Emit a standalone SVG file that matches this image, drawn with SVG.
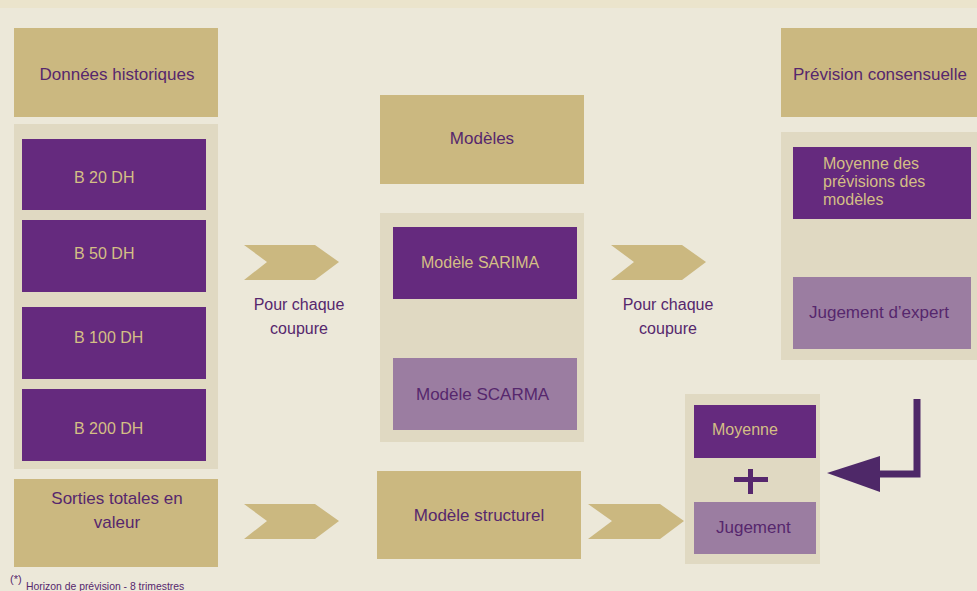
<svg xmlns="http://www.w3.org/2000/svg" width="977" height="591" viewBox="0 0 977 591">
  <style>
    .bg { fill: #ece8d9; }
    .strip { fill: #ebe4cc; }
    .tan { fill: #cbb880; }
    .panel { fill: #e0d9c2; }
    .purple { fill: #652a7e; }
    .lilac { fill: #9b7da1; }
    .chev { fill: #cbb880; }
    text { font-family: "Liberation Sans", Arial, sans-serif; }
    .dark { fill: #56276d; font-size: 17px; }
    .light { fill: #d4bf85; font-size: 16px; }
    .dk16 { fill: #56276d; font-size: 16px; }
    .mid { text-anchor: middle; }
  </style>

  <rect class="bg" x="0" y="0" width="977" height="591"/>
  <rect class="strip" x="0" y="0" width="977" height="8"/>

  <!-- Left column: historical data -->
  <g id="donnees-historiques">
    <rect class="tan" x="14" y="28" width="204" height="89"/>
    <text class="dark mid" x="117" y="80">Données historiques</text>
  </g>
  <g id="billets">
    <rect class="panel" x="14" y="124" width="204" height="345"/>
    <g id="b20">
      <rect class="purple" x="22" y="139" width="184" height="71"/>
      <text class="light" x="74" y="183">B 20 DH</text>
    </g>
    <g id="b50">
      <rect class="purple" x="22" y="220" width="184" height="72"/>
      <text class="light" x="74" y="259">B 50 DH</text>
    </g>
    <g id="b100">
      <rect class="purple" x="22" y="307" width="184" height="72"/>
      <text class="light" x="74" y="343">B 100 DH</text>
    </g>
    <g id="b200">
      <rect class="purple" x="22" y="389" width="184" height="72"/>
      <text class="light" x="74" y="434">B 200 DH</text>
    </g>
  </g>
  <g id="sorties-totales">
    <rect class="tan" x="14" y="479" width="204" height="88"/>
    <text class="dark mid" x="117" y="504">Sorties totales en</text>
    <text class="dark mid" x="117" y="528">valeur</text>
  </g>

  <!-- Middle column: models -->
  <g id="modeles">
    <rect class="tan" x="380" y="95" width="204" height="89"/>
    <text class="dark mid" x="482" y="144">Modèles</text>
  </g>
  <g id="modeles-panel">
    <rect class="panel" x="380" y="213" width="204" height="229"/>
    <g id="sarima">
      <rect class="purple" x="393" y="227" width="184" height="72"/>
      <text class="light" x="421" y="268">Modèle SARIMA</text>
    </g>
    <g id="scarma">
      <rect class="lilac" x="393" y="358" width="184" height="72"/>
      <text class="dark" x="416" y="400">Modèle SCARMA</text>
    </g>
  </g>
  <g id="modele-structurel">
    <rect class="tan" x="377" y="471" width="204" height="88"/>
    <text class="dark mid" x="479" y="521">Modèle structurel</text>
  </g>

  <!-- Right column: consensus forecast -->
  <g id="prevision-consensuelle">
    <rect class="tan" x="781" y="28" width="196" height="89"/>
    <text class="dark" x="793" y="80">Prévision consensuelle</text>
  </g>
  <g id="consensus-panel">
    <rect class="panel" x="781" y="132" width="196" height="228"/>
    <g id="moyenne-previsions">
      <rect class="purple" x="793" y="147" width="178" height="72"/>
      <text class="light" x="823" y="169">Moyenne des</text>
      <text class="light" x="823" y="187">prévisions des</text>
      <text class="light" x="823" y="205">modèles</text>
    </g>
    <g id="jugement-expert">
      <rect class="lilac" x="793" y="277" width="178" height="72"/>
      <text class="dark" x="809" y="318">Jugement d’expert</text>
    </g>
  </g>
  <g id="combinaison">
    <rect class="panel" x="685" y="394" width="135" height="170"/>
    <g id="moyenne">
      <rect class="purple" x="694" y="405" width="122" height="53"/>
      <text class="light" x="712" y="435">Moyenne</text>
    </g>
    <g id="plus">
      <rect fill="#56276d" x="734" y="477" width="34" height="5"/>
      <rect fill="#56276d" x="748" y="469" width="5" height="25"/>
    </g>
    <g id="jugement">
      <rect class="lilac" x="694" y="502" width="122" height="52"/>
      <text class="dark" x="716" y="533">Jugement</text>
    </g>
  </g>

  <!-- Connectors -->
  <g id="connectors">
    <polygon class="chev" points="244,245 315,245 339,262 315,280 244,280 267,262"/>
    <polygon class="chev" points="611,245 682,245 706,262 682,280 611,280 634,262"/>
    <polygon class="chev" points="244,504 315,504 339,521 315,539 244,539 267,521"/>
    <polygon class="chev" points="588,504 660,504 684,521 660,539 588,539 612,521"/>
    <text class="dk16 mid" x="299" y="310">Pour chaque</text>
    <text class="dk16 mid" x="299" y="334">coupure</text>
    <text class="dk16 mid" x="668" y="310">Pour chaque</text>
    <text class="dk16 mid" x="668" y="334">coupure</text>
    <path d="M917,399 V474 H878" fill="none" stroke="#4e2868" stroke-width="7"/>
    <polygon points="880,456 880,492 827,473" fill="#4e2868"/>
  </g>

  <!-- Footnote -->
  <g id="note">
    <text x="10" y="583" fill="#56276d" style="font-size:11px">(*)</text>
    <text x="26" y="590" fill="#56276d" style="font-size:10.4px">Horizon de prévision - 8 trimestres</text>
  </g>
</svg>
